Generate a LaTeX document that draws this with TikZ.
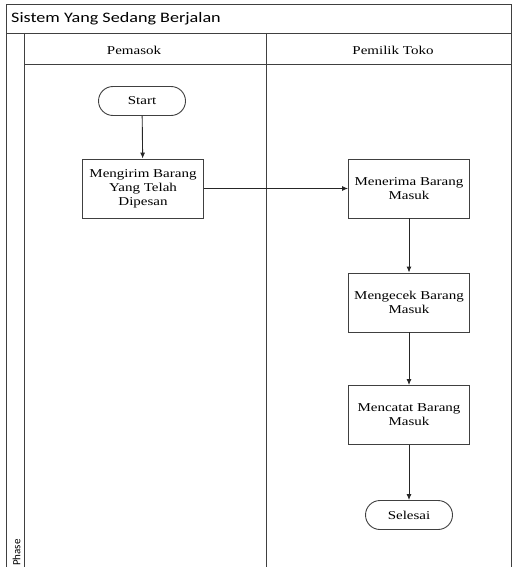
\documentclass[tikz,border=0pt]{standalone}
\usepackage{fontspec}
\setmainfont{Liberation Serif}[FakeStretch=1.25]
\newfontfamily\titlefont{Carlito}[FakeStretch=1.25]
\newfontfamily\phasefont{Carlito}
\usetikzlibrary{arrows.meta,shapes.misc}

\tikzset{
  frame/.style={draw=black!75, line width=0.9pt},
  process/.style={draw=black!75, line width=0.9pt, minimum width=121pt,
    minimum height=59pt, align=center, inner sep=2pt,
    font=\fontsize{12}{14}\selectfont},
  terminal/.style={rounded rectangle, draw=black!75, line width=0.9pt,
    minimum width=91pt, minimum height=29pt, inner sep=2pt,
    font=\fontsize{12}{14}\selectfont},
  flow/.style={draw=black!85, line width=0.9pt,
    -{Latex[length=6pt,width=5pt]}},
  lanehead/.style={font=\fontsize{12}{14}\selectfont, inner sep=0pt}
}

\begin{document}
\begin{tikzpicture}[x=1pt,y=-1pt]
\useasboundingbox (0,0) rectangle (514,567);

% pool frame, title bar, phase column and lane header
\draw[frame] (6,568) -- (6,4) -- (511,4) -- (511,568);
\draw[frame] (6,33) -- (511,33);
\draw[frame] (24,33) -- (24,568);
\draw[frame] (24,64) -- (511,64);
\draw[frame] (266,33) -- (266,568);

\node[anchor=west, inner sep=0pt, font=\titlefont\fontsize{14.5}{16}\selectfont] (title) at (11,19) {Sistem Yang Sedang Berjalan};
\node[lanehead] (laneA) at (134,50) {Pemasok};
\node[lanehead] (laneB) at (393,50) {Pemilik Toko};
\node[rotate=90, anchor=west, inner sep=0pt, font=\phasefont\fontsize{11}{13}\selectfont] (phase) at (16.5,566) {Phase};

% flow steps
\node[terminal] (start) at (142,101) {Start};
\node[process] (kirim) at (143,188.5) {Mengirim Barang\\Yang Telah\\Dipesan};
\node[process] (terima) at (409,188.5) {Menerima Barang\\Masuk};
\node[process] (cek) at (409,302.5) {Mengecek Barang\\Masuk};
\node[process] (catat) at (409,415) {Mencatat Barang\\Masuk};
\node[terminal] (selesai) at (409,515) {Selesai};

% connectors
\draw[flow] (start) -- (kirim);
\draw[flow] (kirim) -- (terima);
\draw[flow] (terima) -- (cek);
\draw[flow] (cek) -- (catat);
\draw[flow] (catat) -- (selesai);
\end{tikzpicture}
\end{document}
